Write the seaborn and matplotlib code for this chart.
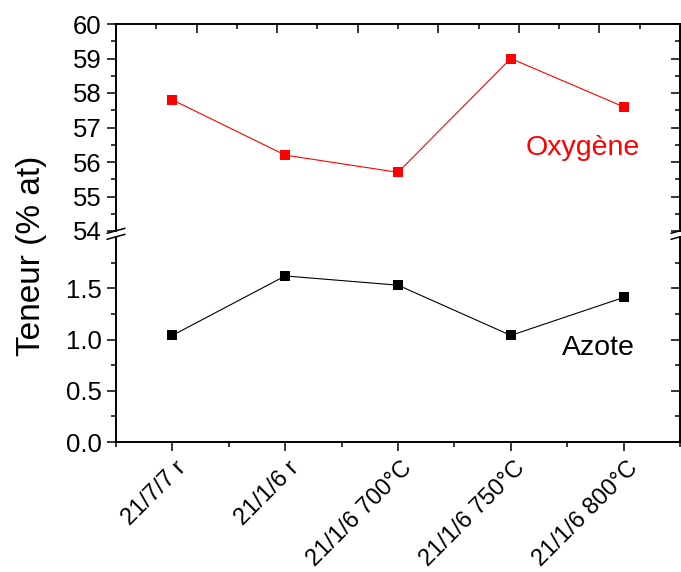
import matplotlib
matplotlib.use('Agg')
import matplotlib.pyplot as plt
import matplotlib.transforms as mtrans
import seaborn as sns
import pandas as pd
from matplotlib.ticker import FixedLocator, MultipleLocator, FormatStrFormatter
from matplotlib.lines import Line2D

categories = ["21/7/7 r", "21/1/6 r", "21/1/6 700°C", "21/1/6 750°C", "21/1/6 800°C"]
oxygene = [57.8, 56.2, 55.7, 59.0, 57.6]
azote = [1.04, 1.62, 1.53, 1.04, 1.41]

sns.set_style('white')
plt.rcParams['font.family'] = ['Liberation Sans', 'DejaVu Sans']
for k in ('text.color', 'axes.labelcolor', 'xtick.color', 'ytick.color', 'axes.edgecolor'):
    plt.rcParams[k] = 'black'

W, H = 681, 572
fig = plt.figure(figsize=(W / 100, H / 100), dpi=100)
L, R = 116, 680
ax_top = fig.add_axes([L / W, 1 - 231 / H, (R - L) / W, (231 - 24) / H])
ax_bot = fig.add_axes([L / W, 1 - 442 / H, (R - L) / W, (442 - 237) / H])

df = pd.DataFrame({'cat': categories, 'O': oxygene, 'N': azote})
line_kw = dict(sort=False, marker='s', markersize=6.8, markeredgewidth=0, linewidth=0.8)
sns.lineplot(data=df, x='cat', y='O', ax=ax_top, color='#FF0000', **line_kw)
sns.lineplot(data=df, x='cat', y='N', ax=ax_bot, color='black', **line_kw)

TW = 1.1

# mirrored ticks (pointing inward) on the right and top
for ax, ylim, maj, mnr in ((ax_top, (54, 60), MultipleLocator(1), MultipleLocator(0.5)),
                           (ax_bot, (0, 2.0), FixedLocator([0, 0.5, 1.0, 1.5]),
                            FixedLocator([0.25, 0.75, 1.25, 1.75]))):
    tw = ax.twinx()
    tw.set_ylim(*ylim)
    tw.yaxis.set_major_locator(maj)
    tw.yaxis.set_minor_locator(mnr)
    for s in tw.spines.values():
        s.set_visible(False)
    tw.tick_params(axis='y', which='both', direction='in', right=True, left=False,
                   labelright=False, width=TW)
    tw.tick_params(axis='y', which='major', length=6.5)
    tw.tick_params(axis='y', which='minor', length=3.5)
    tw.grid(False)

ty = ax_top.twiny()
ty.set_xlim(-0.5, 4.5)
step = 5 / 7
ty.xaxis.set_major_locator(FixedLocator([-0.5 + k * step for k in range(8)]))
ty.xaxis.set_minor_locator(FixedLocator([-0.5 + (k + 0.5) * step for k in range(7)]))
for s in ty.spines.values():
    s.set_visible(False)
ty.tick_params(axis='x', which='both', direction='in', top=True, bottom=False,
               labeltop=False, labelbottom=False, width=TW)
ty.tick_params(axis='x', which='major', length=6.5)
ty.tick_params(axis='x', which='minor', length=3.5)
ty.grid(False)

for ax in (ax_top, ax_bot):
    ax.set_xlim(-0.5, 4.5)
    ax.set_xlabel('')
    ax.set_ylabel('')
    for s in ax.spines.values():
        s.set_linewidth(1.4)
        s.set_color('black')
    ax.tick_params(axis='y', which='both', direction='out', left=True, right=False,
                   width=TW, labelsize=18.5, pad=4)
    ax.tick_params(axis='y', which='major', length=6.5)
    ax.tick_params(axis='y', which='minor', length=3.5)

ax_top.set_ylim(54, 60)
ax_top.yaxis.set_major_locator(MultipleLocator(1))
ax_top.yaxis.set_minor_locator(MultipleLocator(0.5))
ax_top.spines['bottom'].set_visible(False)
ax_top.tick_params(axis='x', which='both', bottom=False, top=False, labelbottom=False,
                   labeltop=False)

ax_bot.set_ylim(0, 2.0)
ax_bot.yaxis.set_major_locator(FixedLocator([0, 0.5, 1.0, 1.5]))
ax_bot.yaxis.set_minor_locator(FixedLocator([0.25, 0.75, 1.25, 1.75]))
ax_bot.yaxis.set_major_formatter(FormatStrFormatter('%.1f'))
ax_bot.spines['top'].set_visible(False)
ax_bot.xaxis.set_minor_locator(FixedLocator([-0.5, 0.5, 1.5, 2.5, 3.5, 4.5]))
ax_bot.tick_params(axis='x', which='both', direction='out', bottom=True, top=False,
                   width=TW, labelsize=17, pad=3)
ax_bot.tick_params(axis='x', which='major', length=6.5)
ax_bot.tick_params(axis='x', which='minor', length=3.5)
for lab in ax_bot.get_xticklabels():
    lab.set_rotation(45)
    lab.set_ha('right')
    lab.set_va('center')
    lab.set_rotation_mode('anchor')
    lab.set_transform(lab.get_transform()
                      + mtrans.ScaledTranslation(10.5 / 100, -10 / 100, fig.dpi_scale_trans))

ax_top.text(3.635, 56.42, 'Oxygène', color='#FF0000', fontsize=20.5, ha='center', va='center')
ax_bot.text(3.78, 0.917, 'Azote', color='black', fontsize=20.5, ha='center', va='center')

fig.text(32 / W, 1 - 256 / H, 'Teneur (% at)', rotation=90, fontsize=24,
         ha='center', va='center')

# axis break marks
def px(x, y):
    return x / W, 1 - y / H

for xc in (L, R):
    for (x0, y0, x1, y1) in ((xc - 9, 233.3, xc + 9, 228.3), (xc - 9, 239.3, xc + 9, 234.3)):
        a, b = px(x0, y0)
        c, d = px(x1, y1)
        fig.add_artist(Line2D([a, c], [b, d], transform=fig.transFigure, color='black',
                              linewidth=1.1))

fig.savefig('out.png', dpi=100, facecolor='white')
